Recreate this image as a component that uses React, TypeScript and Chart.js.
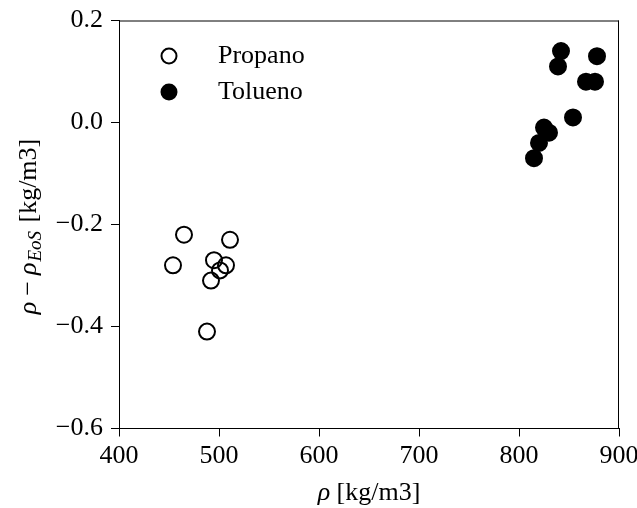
import React, { useEffect, useRef } from "react";
import { Chart, registerables } from "chart.js";

Chart.register(...registerables);

const propanoX = [454, 465, 495, 507, 501, 492, 511, 488];
const propanoY = [-0.28, -0.22, -0.27, -0.28, -0.29, -0.31, -0.23, -0.41];
const toluenoX = [815, 820, 825, 830, 854, 839, 842, 867, 876, 878];
const toluenoY = [-0.07, -0.04, -0.01, -0.02, 0.01, 0.11, 0.14, 0.08, 0.08, 0.13];
const seriesNames = ["Propano", "Tolueno"];
const xTicks = [400, 500, 600, 700, 800, 900];
const yTicks = [-0.6, -0.4, -0.2, 0.0, 0.2];

const FONT = "'Liberation Serif', 'Times New Roman', serif";
const FS = 26;

const decor = {
  id: "decor",
  afterDraw(chart: any) {
    const { ctx, chartArea } = chart;
    const { left, right, top, bottom } = chartArea;
    ctx.save();
    // frame
    ctx.strokeStyle = "#000";
    ctx.lineWidth = 1;
    ctx.beginPath();
    ctx.moveTo(left, top + 0.5);
    ctx.lineTo(right, top + 0.5);
    ctx.moveTo(right - 0.5, top);
    ctx.lineTo(right - 0.5, bottom);
    ctx.stroke();

    // legend
    const lx = left + 50;
    const tx = left + 99;
    const ys = [top + 35.5, top + 71.5];
    ys.forEach((y, i) => {
      ctx.beginPath();
      ctx.arc(lx, y, 7.5, 0, Math.PI * 2);
      ctx.fillStyle = i === 0 ? "#fff" : "#000";
      ctx.fill();
      ctx.lineWidth = 2;
      ctx.strokeStyle = "#000";
      ctx.stroke();
      ctx.fillStyle = "#000";
      ctx.font = `${FS}px ${FONT}`;
      ctx.textBaseline = "middle";
      ctx.textAlign = "left";
      ctx.fillText(seriesNames[i], tx, y);
    });

    // x title
    ctx.textBaseline = "alphabetic";
    const xParts: [string, string][] = [
      ["ρ", `italic ${FS}px ${FONT}`],
      [" [kg/m3]", `${FS}px ${FONT}`],
    ];
    let w = 0;
    xParts.forEach(([t, f]) => {
      ctx.font = f;
      w += ctx.measureText(t).width;
    });
    let cx = (left + right) / 2 - w / 2;
    const by = 500;
    xParts.forEach(([t, f]) => {
      ctx.font = f;
      ctx.fillText(t, cx, by);
      cx += ctx.measureText(t).width;
    });

    // y title: [text, font, baseline shift, extra gap after]
    const yParts: [string, string, number, number][] = [
      ["ρ", `italic ${FS}px ${FONT}`, 0, 6],
      ["−", `${FS}px ${FONT}`, 0, 6],
      ["ρ", `italic ${FS}px ${FONT}`, 0, 1],
      ["EoS", `italic 19px ${FONT}`, 5, 2],
      [" [kg/m3]", `${FS}px ${FONT}`, 0, 0],
    ];
    w = 0;
    yParts.forEach(([t, f, , g]) => {
      ctx.font = f;
      w += ctx.measureText(t).width + g;
    });
    ctx.translate(36, (top + bottom) / 2 + 2);
    ctx.rotate(-Math.PI / 2);
    let px = -w / 2;
    yParts.forEach(([t, f, dy, g]) => {
      ctx.font = f;
      ctx.fillText(t, px, dy);
      px += ctx.measureText(t).width + g;
    });
    ctx.restore();
  },
};

function fmt(v: number) {
  if (Math.abs(v) < 1e-9) return "0.0";
  return v.toFixed(1).replace("-", "−");
}

function zeroPad(s: any) {
  s.paddingLeft = 0;
  s.paddingRight = 0;
  s.paddingTop = 0;
  s.paddingBottom = 0;
}

export default function App() {
  const ref = useRef<HTMLCanvasElement | null>(null);
  useEffect(() => {
    if (!ref.current) return;
    const chart = new Chart(ref.current, {
      type: "scatter",
      data: {
        datasets: [
          {
            label: seriesNames[0],
            data: propanoX.map((x, i) => ({ x, y: propanoY[i] })),
            pointRadius: 8,
            pointBorderWidth: 2,
            pointBackgroundColor: "rgba(255,255,255,0)",
            pointBorderColor: "#000",
          },
          {
            label: seriesNames[1],
            data: toluenoX.map((x, i) => ({ x, y: toluenoY[i] })),
            pointRadius: 8,
            pointBorderWidth: 2,
            pointBackgroundColor: "#000",
            pointBorderColor: "#000",
          },
        ],
      },
      options: {
        responsive: false,
        animation: false,
        layout: { padding: { top: 20.5, right: 18, left: 0, bottom: 0 } },
        plugins: { legend: { display: false }, tooltip: { enabled: false } },
        scales: {
          x: {
            type: "linear",
            min: 400,
            max: 900,
            afterFit: (s: any) => {
              s.height = 79.5;
              zeroPad(s);
            },
            afterBuildTicks: (s: any) => {
              s.ticks = xTicks.map((v) => ({ value: v }));
            },
            grid: {
              drawOnChartArea: false,
              drawTicks: true,
              tickLength: 8,
              color: "#000",
              lineWidth: 1,
            },
            border: { display: true, color: "#000", width: 1 },
            ticks: {
              color: "#000",
              font: { family: FONT, size: FS },
              padding: 4,
              maxRotation: 0,
              callback: (v: any) => String(v),
            },
          },
          y: {
            type: "linear",
            min: -0.6,
            max: 0.2,
            afterFit: (s: any) => {
              s.width = 119;
              zeroPad(s);
            },
            afterBuildTicks: (s: any) => {
              s.ticks = yTicks.map((v) => ({ value: v }));
            },
            grid: {
              drawOnChartArea: false,
              drawTicks: true,
              tickLength: 8,
              color: "#000",
              lineWidth: 1,
            },
            border: { display: true, color: "#000", width: 1 },
            ticks: {
              color: "#000",
              font: { family: FONT, size: FS },
              padding: 8,
              callback: (v: any) => fmt(Number(v)),
            },
          },
        },
      },
      plugins: [decor],
    });
    return () => chart.destroy();
  }, []);
  return (
    <div style={{ position: "fixed", left: 0, top: 0, width: 637, height: 508, background: "#fff" }}>
      <canvas ref={ref} width={637} height={508} style={{ display: "block" }} />
    </div>
  );
}
